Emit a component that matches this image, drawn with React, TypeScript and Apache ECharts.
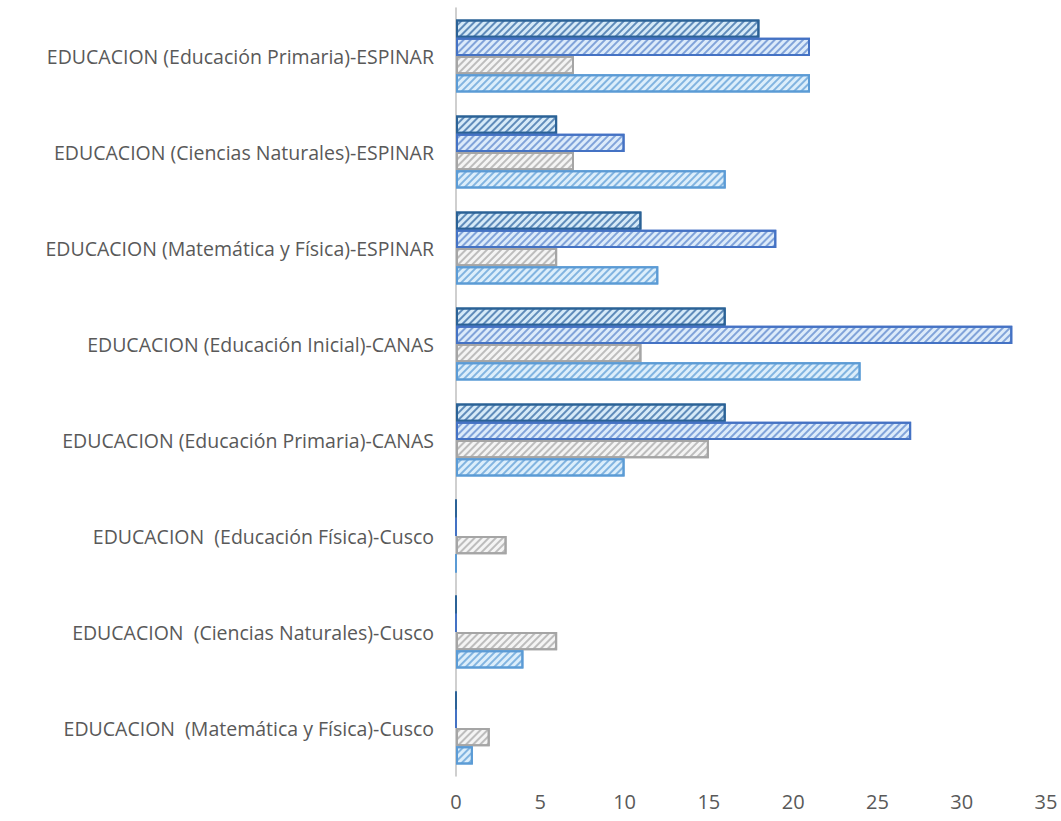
import React, { useEffect, useRef } from "react";
import * as echarts from "echarts";

const categories = [
  "EDUCACION  (Matemática y Física)-Cusco",
  "EDUCACION  (Ciencias Naturales)-Cusco",
  "EDUCACION  (Educación Física)-Cusco",
  "EDUCACION (Educación Primaria)-CANAS",
  "EDUCACION (Educación Inicial)-CANAS",
  "EDUCACION (Matemática y Física)-ESPINAR",
  "EDUCACION (Ciencias Naturales)-ESPINAR",
  "EDUCACION (Educación Primaria)-ESPINAR",
];

// bars in each group, from top to bottom
const serieDark = [0, 0, 0, 16, 16, 11, 6, 18]; // dark blue (top)
const serieMedium = [0, 0, 0, 27, 33, 19, 10, 21]; // medium blue
const serieGray = [2, 6, 3, 15, 11, 6, 7, 7]; // gray
const serieLight = [1, 4, 0, 10, 24, 12, 16, 21]; // light blue (bottom)

const xTicks = { min: 0, max: 35, interval: 5 };

const seriesDefs = [
  { name: "Serie 4", data: serieDark, border: "#2B6296", fill: "#D6EAF8", stripe: "rgba(45,100,160,0.7)" },
  { name: "Serie 3", data: serieMedium, border: "#4472C4", fill: "#DCEBFA", stripe: "rgba(80,125,200,0.65)" },
  { name: "Serie 2", data: serieGray, border: "#A5A5A5", fill: "#F4F4F4", stripe: "rgba(165,165,165,0.7)" },
  { name: "Serie 1", data: serieLight, border: "#5B9BD5", fill: "#DCEEFB", stripe: "rgba(91,155,213,0.7)" },
];

export default function App() {
  const ref = useRef<HTMLDivElement>(null);
  useEffect(() => {
    if (!ref.current) return;
    const chart = echarts.init(ref.current, undefined, { renderer: "svg" });
    chart.setOption({
      animation: false,
      backgroundColor: "#FFFFFF",
      grid: { left: 456, right: 15, top: 8, bottom: 45, containLabel: false },
      xAxis: {
        type: "value",
        min: xTicks.min,
        max: xTicks.max,
        interval: xTicks.interval,
        axisLine: { show: false },
        axisTick: { show: false },
        splitLine: { show: false },
        axisLabel: {
          color: "#595959",
          fontSize: 20,
          fontFamily: "Open Sans",
          margin: 15,
        },
      },
      yAxis: {
        type: "category",
        data: categories,
        axisLine: { show: true, lineStyle: { color: "#BFBFBF", width: 1.5 } },
        axisTick: { show: false },
        axisLabel: {
          color: "#595959",
          fontSize: 19.5,
          fontFamily: "Open Sans",
          margin: 22,
        },
      },
      series: seriesDefs.map((s) => ({
        name: s.name,
        type: "bar",
        data: s.data,
        barGap: "0%",
        barCategoryGap: "24%",
        itemStyle: {
          color: s.fill,
          borderColor: s.border,
          borderWidth: 2,
          decal: {
            symbol: "rect",
            symbolSize: 1,
            dashArrayX: [1, 0],
            dashArrayY: [1.5, 2.5],
            rotation: -Math.PI / 4,
            color: s.stripe,
          },
        },
      })),
    });
    return () => chart.dispose();
  }, []);
  return (
    <div
      ref={ref}
      style={{ position: "absolute", left: 0, top: 0, width: 1061, height: 821 }}
    />
  );
}
